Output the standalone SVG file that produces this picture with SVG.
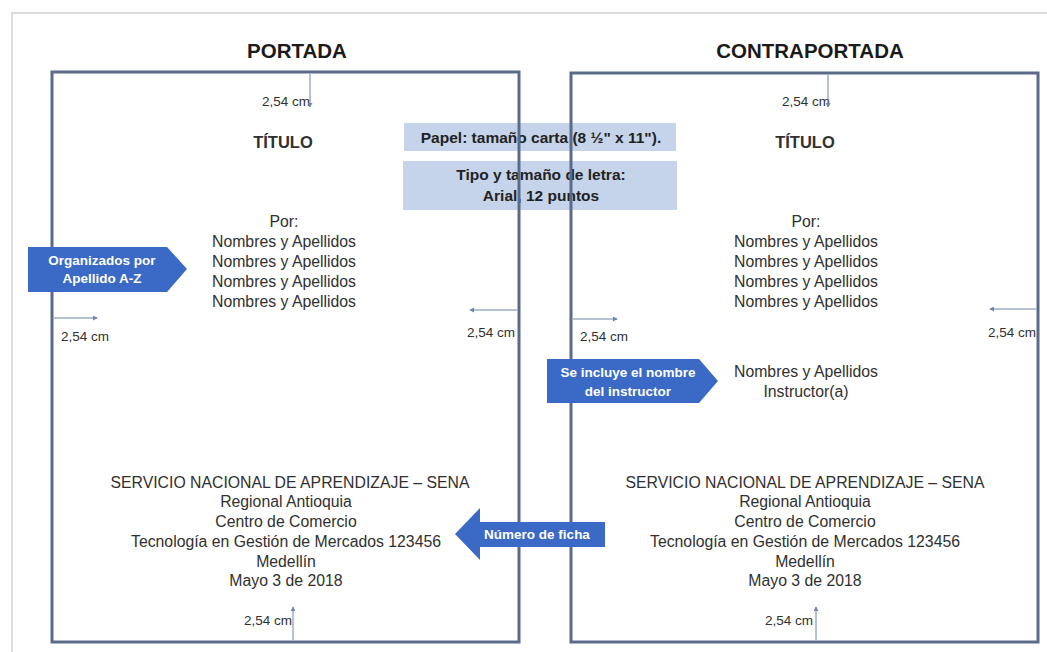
<svg xmlns="http://www.w3.org/2000/svg" width="1047" height="652" viewBox="0 0 1047 652">
<style>
.t{font-family:"Liberation Sans",Arial,sans-serif;fill:#303030;text-anchor:middle}
.h{font-size:20.5px;font-weight:bold;fill:#1a1a1a}
.ti{font-size:16.5px;font-weight:bold}
.b{font-size:15.8px}
.s{font-size:13.5px}
.w{font-family:"Liberation Sans",Arial,sans-serif;font-size:13.5px;font-weight:bold;fill:#ffffff;text-anchor:middle}
.bx{font-family:"Liberation Sans",Arial,sans-serif;font-size:15.5px;font-weight:bold;fill:#222;text-anchor:middle}
.page{fill:none;stroke:#5a6b8a;stroke-width:3}
.dim{stroke:#6f86a8;stroke-width:1;fill:none;marker-end:url(#ah)}
.callout{fill:#3a69c6}
.note{fill:#bccde8;fill-opacity:0.85}
</style>
<defs>
<marker id="ah" viewBox="0 0 6 6" refX="5" refY="3" markerWidth="5" markerHeight="5" orient="auto">
<path d="M0,0 L6,3 L0,6 z" fill="#6f86a8"/>
</marker>
</defs>
<rect width="1047" height="652" fill="#ffffff"/>
<path d="M12,652 V13 H1047" fill="none" stroke="#dcdcdc" stroke-width="2"/>

<g id="portada-title"><text class="t h" x="297" y="58">PORTADA</text></g>
<g id="contraportada-title"><text class="t h" x="810" y="58">CONTRAPORTADA</text></g>

<g id="note-papel">
<rect class="note" x="404" y="123" width="272" height="28"/>
<text class="bx" x="541" y="143">Papel: tamaño carta (8 ½" x 11").</text>
</g>
<g id="note-tipo">
<rect class="note" x="403" y="161" width="274" height="49"/>
<text class="bx" x="541" y="180">Tipo y tamaño de letra:</text>
<text class="bx" x="541" y="201">Arial, 12 puntos</text>
</g>

<g id="portada">
<rect class="page" x="52" y="72" width="467" height="570"/>
<text class="t s" x="286" y="106">2,54 cm</text>
<text class="t ti" x="283" y="148">TÍTULO</text>
<text class="t b" x="284" y="227">Por:</text>
<text class="t b" x="284" y="247">Nombres y Apellidos</text>
<text class="t b" x="284" y="267">Nombres y Apellidos</text>
<text class="t b" x="284" y="287">Nombres y Apellidos</text>
<text class="t b" x="284" y="307">Nombres y Apellidos</text>
<text class="t s" x="85" y="341">2,54 cm</text>
<text class="t s" x="491" y="337">2,54 cm</text>
<text class="t b" x="290" y="488">SERVICIO NACIONAL DE APRENDIZAJE – SENA</text>
<text class="t b" x="286" y="507">Regional Antioquia</text>
<text class="t b" x="286" y="527">Centro de Comercio</text>
<text class="t b" x="286" y="547">Tecnología en Gestión de Mercados 123456</text>
<text class="t b" x="286" y="567">Medellín</text>
<text class="t b" x="286" y="586">Mayo 3 de 2018</text>
<text class="t s" x="268" y="625">2,54 cm</text>
</g>

<g id="contraportada">
<rect class="page" x="571" y="73" width="467" height="569"/>
<text class="t s" x="806" y="106">2,54 cm</text>
<text class="t ti" x="805" y="148">TÍTULO</text>
<text class="t b" x="806" y="227">Por:</text>
<text class="t b" x="806" y="247">Nombres y Apellidos</text>
<text class="t b" x="806" y="267">Nombres y Apellidos</text>
<text class="t b" x="806" y="287">Nombres y Apellidos</text>
<text class="t b" x="806" y="307">Nombres y Apellidos</text>
<text class="t s" x="604" y="341">2,54 cm</text>
<text class="t s" x="1012" y="337">2,54 cm</text>
<text class="t b" x="806" y="377">Nombres y Apellidos</text>
<text class="t b" x="806" y="397">Instructor(a)</text>
<text class="t b" x="805" y="488">SERVICIO NACIONAL DE APRENDIZAJE – SENA</text>
<text class="t b" x="805" y="507">Regional Antioquia</text>
<text class="t b" x="805" y="527">Centro de Comercio</text>
<text class="t b" x="805" y="547">Tecnología en Gestión de Mercados 123456</text>
<text class="t b" x="805" y="567">Medellín</text>
<text class="t b" x="805" y="586">Mayo 3 de 2018</text>
<text class="t s" x="789" y="625">2,54 cm</text>
</g>

<g id="callout-organizados">
<polygon class="callout" points="28,247 167,247 187,269 167,292 28,292"/>
<text class="w" x="102" y="265">Organizados por</text>
<text class="w" x="102" y="283">Apellido A-Z</text>
</g>
<g id="callout-instructor">
<polygon class="callout" points="547,359 699,359 718,381 699,403 547,403"/>
<text class="w" x="628" y="377">Se incluye el nombre</text>
<text class="w" x="628" y="396">del instructor</text>
</g>
<g id="callout-ficha">
<polygon class="callout" points="455,534 480,508 480,522 605,522 605,547 480,547 480,560"/>
<text class="w" x="537" y="539">Número de ficha</text>
</g>

<g id="connectors">
<line class="dim" x1="310" y1="74" x2="310" y2="107"/>
<line class="dim" x1="828" y1="75" x2="828" y2="107"/>
<line class="dim" x1="54" y1="318" x2="97" y2="318"/>
<line class="dim" x1="517" y1="310" x2="470" y2="310"/>
<line class="dim" x1="573" y1="319" x2="617" y2="319"/>
<line class="dim" x1="1036" y1="309" x2="990" y2="309"/>
<line class="dim" x1="293" y1="640" x2="293" y2="607"/>
<line class="dim" x1="816" y1="640" x2="816" y2="607"/>
</g>
</svg>
